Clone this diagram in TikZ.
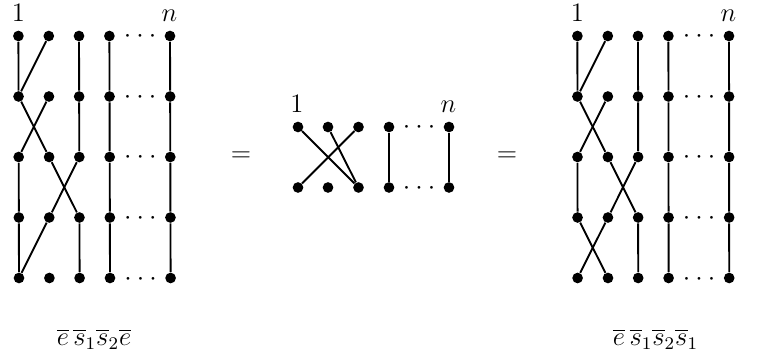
\documentclass[tikz,border=0pt]{standalone}
\begin{document}
\begin{tikzpicture}[x=0.45pt,y=-0.45pt,
  every node/.style={font=\large},
  vtx/.style={circle,fill=black,inner sep=0pt,minimum size=4.8pt},
  strand/.style={line width=0.85pt},
  lab/.style={inner sep=0pt,anchor=base},
  dotsrow/.style={inner sep=0pt,anchor=base}]
\useasboundingbox (0,0) rectangle (764,355);
\newcommand{\rowdots}{${\cdot}\hspace{2.3pt}{\cdot}\hspace{2.3pt}{\cdot}$}
% left and right diagrams
\foreach \p/\xo/\dx in {L/0/0.15,R/559/0.05}{
  \foreach \r/\yy in {0/36,1/96.5,2/157,3/217.5,4/278}{
    \foreach \c/\xx in {1/18.4,2/48.8,3/79,4/109.4,5/170}{
      \node[vtx] (\p\c\r) at ({\xx+\xo+\dx*\r},\yy) {};
    }
    \node[dotsrow] (\p d\r) at ({140+\xo+\dx*\r},{\yy+7}) {\rowdots};
  }
  \foreach \c in {3,4,5}{
    \draw[strand] (\p\c0) -- (\p\c1);
  }
  \foreach \c in {4,5}{
    \draw[strand] (\p\c1) -- (\p\c2) (\p\c2) -- (\p\c3) (\p\c3) -- (\p\c4);
  }
  \draw[strand] (\p10) -- (\p11);
  \draw[strand] (\p20) -- (\p11);
  \draw[strand] (\p11) -- (\p22);
  \draw[strand] (\p21) -- (\p12);
  \draw[strand] (\p31) -- (\p32);
  \draw[strand] (\p12) -- (\p13);
  \draw[strand] (\p22) -- (\p33);
  \draw[strand] (\p32) -- (\p23);
  \draw[strand] (\p33) -- (\p34);
  \draw[strand] (\p23) -- (\p14);
  \node[lab] (\p one) at ({18.3+\xo},22) {$1$};
  \node[lab] (\p en) at ({169.5+\xo},22) {$n$};
}
\draw[strand] (L13) -- (L14);
\draw[strand] (R13) -- (R24);
% middle diagram
\foreach \c/\xx in {1/298,2/328,3/358.5,4/389,5/449}{
  \node[vtx] (M\c0) at (\xx,127) {};
  \node[vtx] (M\c1) at (\xx,187.5) {};
}
\node[dotsrow] (Md0) at (419,134) {\rowdots};
\node[dotsrow] (Md1) at (419,194.5) {\rowdots};
\draw[strand] (M10) -- (M31);
\draw[strand] (M20) -- (M31);
\draw[strand] (M30) -- (M11);
\draw[strand] (M40) -- (M41);
\draw[strand] (M50) -- (M51);
\node[lab] (Mone) at (297,113) {$1$};
\node[lab] (Men) at (448.5,113) {$n$};
\node (eq1) at (241,157) {$=$};
\node (eq2) at (507,157) {$=$};
\node[lab] (capL) at (94,345) {$\overline{e}\,\overline{s}_1\overline{s}_2\overline{e}$};
\node[lab] (capR) at (655.5,345) {$\overline{e}\,\overline{s}_1\overline{s}_2\overline{s}_1$};
\end{tikzpicture}
\end{document}
